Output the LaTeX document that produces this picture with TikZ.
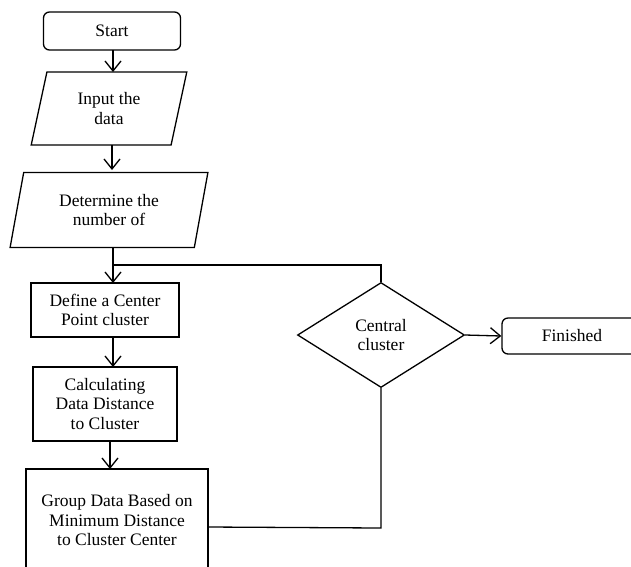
\documentclass[tikz,border=0pt]{standalone}
\usepackage{fontspec}
\setmainfont{Liberation Serif}
\usetikzlibrary{shapes.geometric, arrows.meta}

\begin{document}
\begin{tikzpicture}[x = 1pt, y = -1pt, line width = 1.3pt,
    font = \fontsize{17.5}{19.5}\selectfont,
    arr/.style = {-{Straight Barb[length=10pt, width=16pt, line width=1.3pt]}},
    terminal/.style = {draw, rounded corners = 6pt, align = center},
    io/.style = {draw, trapezium, trapezium left angle = 76, trapezium right angle = 104,
        trapezium stretches = true, align = center, inner sep = 0pt},
    process/.style = {draw, align = center, inner sep = 0pt},
    decision/.style = {draw, diamond, align = center, inner sep = 0pt}]
    \useasboundingbox (0, 0) rectangle (631, 566);

    \node[terminal, minimum width = 137pt, minimum height = 38pt] (start) at (112, 31) {Start};
    \node[io, minimum width = 156pt, minimum height = 73pt] (input) at (109, 108.5) {Input the\\data};
    \node[io, minimum width = 198pt, minimum height = 75pt] (number) at (109, 210) {Determine the\\number of};
    \node[process, minimum width = 148pt, minimum height = 54pt] (center) at (105, 310) {Define a Center\\Point cluster};
    \node[process, minimum width = 144pt, minimum height = 74pt] (distance) at (105, 404) {Calculating\\Data Distance\\to Cluster};
    \node[process, minimum width = 182pt, minimum height = 102pt] (group) at (117, 520) {Group Data Based on\\Minimum Distance\\to Cluster Center};
    \node[decision, minimum width = 167pt, minimum height = 105pt] (check) at (381, 335) {Central\\cluster};
    \node[terminal, minimum width = 140pt, minimum height = 36pt] (finish) at (572, 336) {Finished};

    \coordinate (join) at (113, 265);

    \draw[arr] (113, 50) -- (113, 72);
    \draw[arr] (112, 145) -- (112, 170);
    \draw (113, 247.5) -- (join);
    \draw[arr] (join) -- (113, 283);
    \draw[arr] (113, 337) -- (113, 367);
    \draw[arr] (110, 441) -- (110, 469);

    \draw (group.east |- 0, 527) -- (check.south |- 0, 528) -- (check.south);
    \draw (check.north) -- (check.north |- join) -- (join);
    \draw[arr] (check.east) -- (finish.west);
\end{tikzpicture}
\end{document}
